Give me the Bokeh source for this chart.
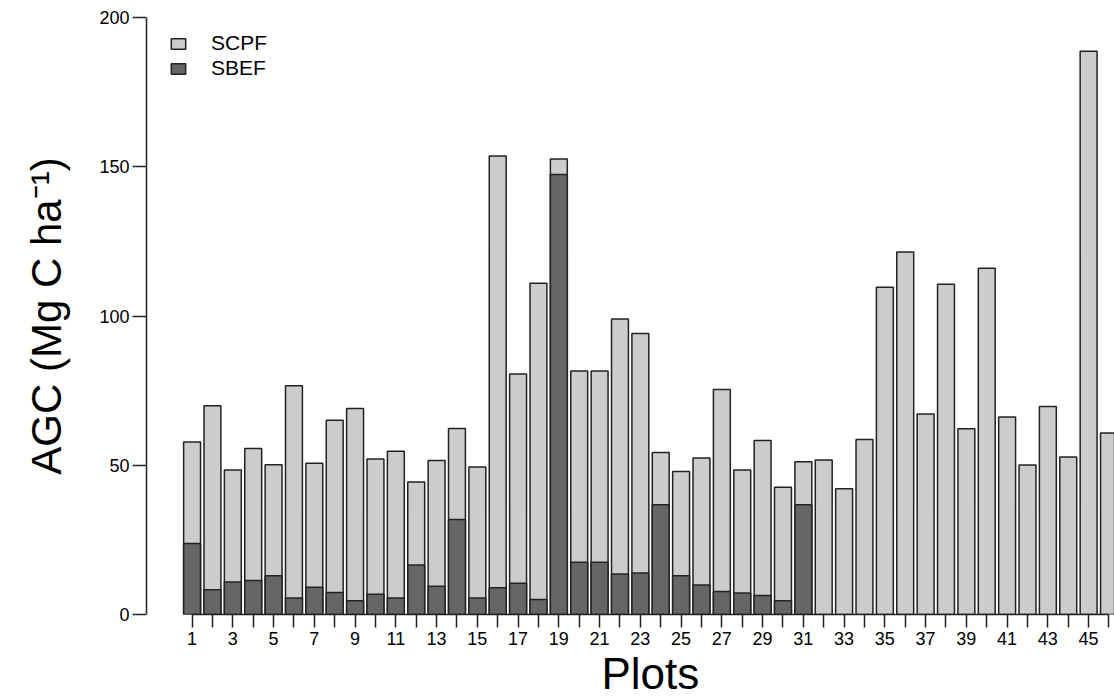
from bokeh.plotting import figure
from bokeh.models import FixedTicker, Legend, LegendItem, Range1d, Title
from bokeh.embed import file_html
from bokeh.resources import INLINE

# Above-ground carbon per plot (Mg C ha-1)
plots = list(range(1, 47))
scpf = [57.8, 69.9, 48.4, 55.6, 50.2, 76.6, 50.7, 65.1, 69.0, 52.1,
        54.7, 44.4, 51.6, 62.3, 49.4, 153.6, 80.6, 111.0, 152.6, 81.6,
        81.6, 99.0, 94.1, 54.3, 47.9, 52.4, 75.4, 48.4, 58.3, 42.6,
        51.2, 51.8, 42.1, 58.6, 109.6, 121.4, 67.2, 110.6, 62.2, 116.0,
        66.2, 50.1, 69.7, 52.8, 188.7, 60.8]
sbef_plots = list(range(1, 32))
sbef = [23.8, 8.3, 10.9, 11.4, 13.0, 5.5, 9.1, 7.4, 4.6, 6.8,
        5.5, 16.6, 9.5, 31.8, 5.5, 9.0, 10.5, 5.0, 147.4, 17.5,
        17.5, 13.6, 13.9, 36.8, 13.0, 9.9, 7.7, 7.2, 6.4, 4.6, 36.8]
y_ticks = [0, 50, 100, 150, 200]

FONT = "'Liberation Sans', Arial, sans-serif"
EDGE = "#222222"

p = figure(width=1114, height=700, output_backend="svg", toolbar_location=None,
           x_range=Range1d(-1.237, 46.27), y_range=Range1d(0, 200),
           min_border_left=146, min_border_right=0, min_border_top=17,
           min_border_bottom=86)
p.outline_line_color = None
p.xgrid.visible = False
p.ygrid.visible = False

light = p.vbar(x=plots, top=scpf, bottom=0, width=0.83,
               fill_color="#CCCCCC", line_color=EDGE, line_width=1.5)
dark = p.vbar(x=sbef_plots, top=sbef, bottom=0, width=0.83,
              fill_color="#666666", line_color=EDGE, line_width=1.5)

# x axis: a tick per plot, labels on odd plots only
xa = p.xaxis[0]
xa.ticker = FixedTicker(ticks=plots)
xa.major_label_overrides = {k: ("" if k % 2 == 0 else str(k)) for k in plots}
xa.bounds = (1, 46)
xa.minor_tick_line_color = None
xa.major_tick_out = 13
xa.major_tick_in = 0
xa.major_tick_line_width = 1.5
xa.major_tick_line_color = EDGE
xa.axis_line_width = 1.5
xa.axis_line_color = EDGE
xa.major_label_text_font = FONT
xa.major_label_text_font_size = "18px"
xa.major_label_text_color = "black"
xa.major_label_standoff = 4

ya = p.yaxis[0]
ya.ticker = FixedTicker(ticks=y_ticks)
ya.bounds = (0, 200)
ya.minor_tick_line_color = None
ya.major_tick_out = 14
ya.major_tick_in = 0
ya.major_tick_line_width = 1.5
ya.major_tick_line_color = EDGE
ya.axis_line_width = 1.5
ya.axis_line_color = EDGE
ya.major_label_text_font = FONT
ya.major_label_text_font_size = "18px"
ya.major_label_text_color = "black"
ya.major_label_standoff = 3
ya.axis_label = "AGC (Mg C ha\u207b\u00b9)"
ya.axis_label_text_font = FONT
ya.axis_label_text_font_size = "42px"
ya.axis_label_text_font_style = "normal"
ya.axis_label_text_color = "black"
ya.axis_label_standoff = 26

# x axis title, centred under the bars (bar 1 .. bar 46)
p.add_layout(Title(text="Plots", align="left", offset=455, standoff=0,
                   vertical_align="middle",
                   text_font=FONT, text_font_size="44px",
                   text_font_style="normal", text_color="black"), "below")

legend = Legend(items=[LegendItem(label="SCPF", renderers=[light]),
                       LegendItem(label="SBEF", renderers=[dark])],
                location=(23, 534), padding=0, margin=0, spacing=1,
                glyph_width=18, glyph_height=13, label_height=20,
                label_standoff=24, border_line_color=None,
                background_fill_alpha=0,
                label_text_font=FONT, label_text_font_size="21px",
                label_text_color="black")
p.add_layout(legend)

open("out.html", "w").write(file_html(p, INLINE))
